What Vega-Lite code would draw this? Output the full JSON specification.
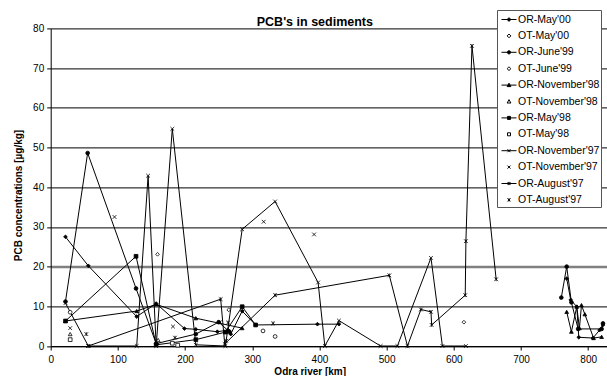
{
 "$schema": "https://vega.github.io/schema/vega-lite/v6.json",
 "width": 556.3,
 "height": 317.6,
 "autosize": {"type": "none"},
 "padding": {"left": 50.7, "top": 28.4, "right": 0, "bottom": 30},
 "background": "white",
 "title": {"text": "PCB's in sediments", "fontSize": 12.5, "font": "Liberation Sans", "fontWeight": "bold", "color": "black", "anchor": "middle", "dx": -14, "dy": 30, "offset": 1, "baseline": "alphabetic"},
 "config": {"view": {"stroke": null}, "font": "Liberation Sans"},
 "data": {"values": [
  {"s":"OR-May'00","g":1,"km":22,"v":27.5},{"s":"OR-May'00","g":1,"km":56,"v":20.2},{"s":"OR-May'00","g":1,"km":128,"v":7.4},{"s":"OR-May'00","g":1,"km":157,"v":10.7},{"s":"OR-May'00","g":1,"km":199,"v":4.4},{"s":"OR-May'00","g":1,"km":216,"v":4.2},{"s":"OR-May'00","g":1,"km":248,"v":3.6},{"s":"OR-May'00","g":1,"km":264,"v":4.0},{"s":"OR-May'00","g":1,"km":268,"v":3.0},{"s":"OR-May'00","g":1,"km":285,"v":8.8},{"s":"OR-May'00","g":1,"km":305,"v":5.3},{"s":"OR-May'00","g":1,"km":397,"v":5.5},{"s":"OR-May'00","g":1,"km":429,"v":5.5},
  {"s":"OR-May'00","g":2,"km":768,"v":17.0},{"s":"OR-May'00","g":2,"km":774,"v":11.6},{"s":"OR-May'00","g":2,"km":783,"v":9.9},{"s":"OR-May'00","g":2,"km":786,"v":2.2},{"s":"OR-May'00","g":2,"km":807,"v":2.0},{"s":"OR-May'00","g":2,"km":817,"v":4.0},{"s":"OR-May'00","g":2,"km":822,"v":5.3},
  {"s":"OT-May'00","g":1,"km":159,"v":23.1},{"s":"OT-May'00","g":1,"km":265,"v":9.1},{"s":"OT-May'00","g":1,"km":615,"v":6.0},
  {"s":"OR-June'99","g":1,"km":22,"v":11.2},{"s":"OR-June'99","g":1,"km":55,"v":48.6},{"s":"OR-June'99","g":1,"km":127,"v":14.5},{"s":"OR-June'99","g":1,"km":157,"v":0.6},{"s":"OR-June'99","g":1,"km":216,"v":3.0},{"s":"OR-June'99","g":1,"km":250,"v":6.0},{"s":"OR-June'99","g":1,"km":266,"v":3.6},
  {"s":"OR-June'99","g":2,"km":760,"v":12.2},{"s":"OR-June'99","g":2,"km":768,"v":20.0},{"s":"OR-June'99","g":2,"km":775,"v":11.0},{"s":"OR-June'99","g":2,"km":785,"v":4.3},{"s":"OR-June'99","g":2,"km":820,"v":4.3},{"s":"OR-June'99","g":2,"km":822,"v":5.7},
  {"s":"OT-June'99","g":1,"km":29,"v":8.5},{"s":"OT-June'99","g":1,"km":316,"v":3.8},{"s":"OT-June'99","g":1,"km":334,"v":2.4},
  {"s":"OR-November'98","g":1,"km":22,"v":6.3},{"s":"OR-November'98","g":1,"km":128,"v":8.8},{"s":"OR-November'98","g":1,"km":157,"v":10.5},{"s":"OR-November'98","g":1,"km":216,"v":7.0},{"s":"OR-November'98","g":1,"km":285,"v":4.5},
  {"s":"OR-November'98","g":2,"km":768,"v":8.6},{"s":"OR-November'98","g":2,"km":775,"v":3.6},{"s":"OR-November'98","g":2,"km":783,"v":9.9},{"s":"OR-November'98","g":2,"km":787,"v":4.5},{"s":"OR-November'98","g":2,"km":790,"v":10.3},{"s":"OR-November'98","g":2,"km":795,"v":8.0},{"s":"OR-November'98","g":2,"km":808,"v":2.0},{"s":"OR-November'98","g":2,"km":820,"v":2.3},
  {"s":"OT-November'98","g":1,"km":29,"v":3.0},{"s":"OT-November'98","g":1,"km":160,"v":1.5},
  {"s":"OR-May'98","g":1,"km":22,"v":6.3},{"s":"OR-May'98","g":1,"km":127,"v":22.6},{"s":"OR-May'98","g":1,"km":157,"v":0.3},{"s":"OR-May'98","g":1,"km":216,"v":1.6},{"s":"OR-May'98","g":1,"km":260,"v":3.5},{"s":"OR-May'98","g":1,"km":285,"v":9.9},{"s":"OR-May'98","g":1,"km":305,"v":5.3},
  {"s":"OT-May'98","g":1,"km":29,"v":1.6},{"s":"OT-May'98","g":1,"km":181,"v":0.7},{"s":"OT-May'98","g":1,"km":189,"v":0.2},
  {"s":"OR-November'97","g":1,"km":22,"v":10.8},{"s":"OR-November'97","g":1,"km":56,"v":0},{"s":"OR-November'97","g":1,"km":128,"v":0},{"s":"OR-November'97","g":1,"km":145,"v":42.9},{"s":"OR-November'97","g":1,"km":157,"v":0},{"s":"OR-November'97","g":1,"km":181,"v":54.7},{"s":"OR-November'97","g":1,"km":216,"v":0.3},{"s":"OR-November'97","g":1,"km":260,"v":0},{"s":"OR-November'97","g":1,"km":285,"v":29.4},{"s":"OR-November'97","g":1,"km":334,"v":36.4},{"s":"OR-November'97","g":1,"km":398,"v":16.0},{"s":"OR-November'97","g":1,"km":408,"v":0},{"s":"OR-November'97","g":1,"km":429,"v":6.4},{"s":"OR-November'97","g":1,"km":491,"v":0},{"s":"OR-November'97","g":1,"km":516,"v":0},{"s":"OR-November'97","g":1,"km":566,"v":22.2},{"s":"OR-November'97","g":1,"km":583,"v":0},{"s":"OR-November'97","g":1,"km":618,"v":0},
  {"s":"OT-November'97","g":1,"km":29,"v":4.5},{"s":"OT-November'97","g":1,"km":95,"v":32.5},{"s":"OT-November'97","g":1,"km":182,"v":4.9},{"s":"OT-November'97","g":1,"km":252,"v":6.0},{"s":"OT-November'97","g":1,"km":317,"v":31.3},{"s":"OT-November'97","g":1,"km":392,"v":28.1},
  {"s":"OR-August'97","g":1,"km":56,"v":0},{"s":"OR-August'97","g":1,"km":253,"v":11.8},{"s":"OR-August'97","g":1,"km":259,"v":0.5},{"s":"OR-August'97","g":1,"km":334,"v":12.8},{"s":"OR-August'97","g":1,"km":504,"v":17.8},{"s":"OR-August'97","g":1,"km":531,"v":0},{"s":"OR-August'97","g":1,"km":551,"v":9.2},{"s":"OR-August'97","g":1,"km":566,"v":8.6},{"s":"OR-August'97","g":1,"km":567,"v":5.3},{"s":"OR-August'97","g":1,"km":617,"v":12.8},{"s":"OR-August'97","g":1,"km":618,"v":26.4},{"s":"OR-August'97","g":1,"km":627,"v":75.6},{"s":"OR-August'97","g":1,"km":663,"v":16.8},
  {"s":"OT-August'97","g":1,"km":53,"v":3.0},{"s":"OT-August'97","g":1,"km":185,"v":2.1},{"s":"OT-August'97","g":1,"km":261,"v":1.3},{"s":"OT-August'97","g":1,"km":264,"v":5.9},{"s":"OT-August'97","g":1,"km":331,"v":5.7}
 ]},
 "encoding": {
  "x": {"field": "km", "type": "quantitative", "scale": {"domain": [0, 828], "nice": false, "zero": false},
   "axis": {"values": [0,100,200,300,400,500,600,700,800], "title": "Odra river [km]", "titleFontSize": 10, "titleFontWeight": "bold", "titleColor": "black", "titleX": 259, "titleY": 28, "titleBaseline": "alphabetic", "titleAlign": "center", "labelFontSize": 10, "labelColor": "black", "labelPadding": 4, "tickSize": 4, "tickColor": "black", "domainColor": "black", "grid": false, "labelFlush": false}},
  "y": {"field": "v", "type": "quantitative", "scale": {"domain": [0, 80], "nice": false, "zero": true},
   "axis": {"tickCount": 8, "tickMinStep": 10, "labelOverlap": false, "labelFlush": false, "title": "PCB concentrations [µg/kg]", "titleFontSize": 10, "titleFontWeight": "bold", "titleColor": "black", "titleX": -29, "titleY": 166.6, "titleAngle": -90, "titleBaseline": "alphabetic", "titleAlign": "center", "labelFontSize": 10, "labelColor": "black", "labelPadding": 3, "tickSize": 4, "tickColor": "black", "domainColor": "black", "grid": true,
    "gridColor": {"condition": {"test": "datum.value === 20", "value": "#808080"}, "value": "black"},
    "gridWidth": {"condition": {"test": "datum.value === 20", "value": 2.5}, "value": 1},
    "gridOpacity": 1}}
 },
 "layer": [
  {
   "transform": [{"filter": "indexof(datum.s, 'OR') === 0"}],
   "mark": {"type": "line", "color": "black", "strokeWidth": 1},
   "encoding": {
    "detail": [{"field": "s"}, {"field": "g"}],
    "order": {"field": "km", "type": "quantitative"}
   }
  },
  {
   "mark": {"type": "point", "filled": true, "stroke": "black", "strokeWidth": 0.8, "size": 14, "opacity": 1},
   "encoding": {
    "shape": {"field": "s", "type": "nominal", "legend": null, "scale": {"domain": ["OR-May'00","OT-May'00","OR-June'99","OT-June'99","OR-November'98","OT-November'98","OR-May'98","OT-May'98","OR-November'97","OT-November'97","OR-August'97","OT-August'97"], "range": ["diamond","diamond","circle","circle","triangle-up","triangle-up","square","square","M-1,-1L1,1M-1,1L1,-1","M-1,-1L1,1M-1,1L1,-1","M-1,-1L1,1M-1,1L1,-1M0,-1L0,1","M-1,-1L1,1M-1,1L1,-1M0,-1L0,1"]}},
    "fill": {"field": "s", "type": "nominal", "legend": null, "scale": {"domain": ["OR-May'00","OT-May'00","OR-June'99","OT-June'99","OR-November'98","OT-November'98","OR-May'98","OT-May'98","OR-November'97","OT-November'97","OR-August'97","OT-August'97"], "range": ["black","white","black","white","black","white","black","white","black","white","black","white"]}}
   }
  },
  {
   "mark": {"type": "point", "filled": true, "stroke": "black", "strokeWidth": 1, "opacity": 0},
   "encoding": {
    "shape": {"field": "s", "type": "nominal",
     "legend": {"title": null, "orient": "none", "legendX": 446.3, "legendY": -18.4, "padding": 1.5, "symbolOffset": 2.5, "strokeColor": "#555", "fillColor": "white", "symbolSize": 225, "symbolStrokeColor": "black", "symbolStrokeWidth": 1, "symbolOpacity": 1, "labelFontSize": 10.5, "labelFont": "Liberation Sans", "labelColor": "black", "labelOffset": 1, "rowPadding": 2.4, "labelLimit": 200,
      "encode": {"symbols": {"update": {"stroke": {"value": "black"}, "strokeWidth": {"value": 1}, "opacity": {"value": 1}}}}},
     "scale": {"domain": ["OR-May'00","OT-May'00","OR-June'99","OT-June'99","OR-November'98","OT-November'98","OR-May'98","OT-May'98","OR-November'97","OT-November'97","OR-August'97","OT-August'97"],
      "range": [
       "M-1,0L1,0M0,-0.25L0.25,0L0,0.25L-0.25,0Z",
       "M0,-0.25L0.25,0L0,0.25L-0.25,0Z",
       "M-1,0L1,0M-0.22,0A0.22,0.22,0,1,1,0.22,0A0.22,0.22,0,1,1,-0.22,0Z",
       "M-0.2,0A0.2,0.2,0,1,1,0.2,0A0.2,0.2,0,1,1,-0.2,0Z",
       "M-1,0L1,0M0,-0.25L0.25,0.2L-0.25,0.2Z",
       "M0,-0.25L0.25,0.2L-0.25,0.2Z",
       "M-1,0L1,0M-0.2,-0.2L0.2,-0.2L0.2,0.2L-0.2,0.2Z",
       "M-0.2,-0.2L0.2,-0.2L0.2,0.2L-0.2,0.2Z",
       "M-1,0L1,0M-0.2,-0.2L0.2,0.2M-0.2,0.2L0.2,-0.2",
       "M-0.2,-0.2L0.2,0.2M-0.2,0.2L0.2,-0.2",
       "M-1,0L1,0M-0.2,-0.2L0.2,0.2M-0.2,0.2L0.2,-0.2M0,-0.22L0,0.22",
       "M-0.2,-0.2L0.2,0.2M-0.2,0.2L0.2,-0.2M0,-0.22L0,0.22"
      ]}},
    "fill": {"field": "s", "type": "nominal",
     "legend": {"title": null, "orient": "none", "legendX": 446.3, "legendY": -18.4, "padding": 1.5, "symbolOffset": 2.5, "strokeColor": "#555", "fillColor": "white", "symbolSize": 225, "symbolStrokeColor": "black", "symbolStrokeWidth": 1, "symbolOpacity": 1, "labelFontSize": 10.5, "labelFont": "Liberation Sans", "labelColor": "black", "labelOffset": 1, "rowPadding": 2.4, "labelLimit": 200,
      "encode": {"symbols": {"update": {"stroke": {"value": "black"}, "strokeWidth": {"value": 1}, "opacity": {"value": 1}}}}},
     "scale": {"domain": ["OR-May'00","OT-May'00","OR-June'99","OT-June'99","OR-November'98","OT-November'98","OR-May'98","OT-May'98","OR-November'97","OT-November'97","OR-August'97","OT-August'97"], "range": ["black","white","black","white","black","white","black","white","black","white","black","white"]}}
   }
  }
 ],
 "resolve": {"scale": {"shape": "independent", "fill": "independent"}}
}
